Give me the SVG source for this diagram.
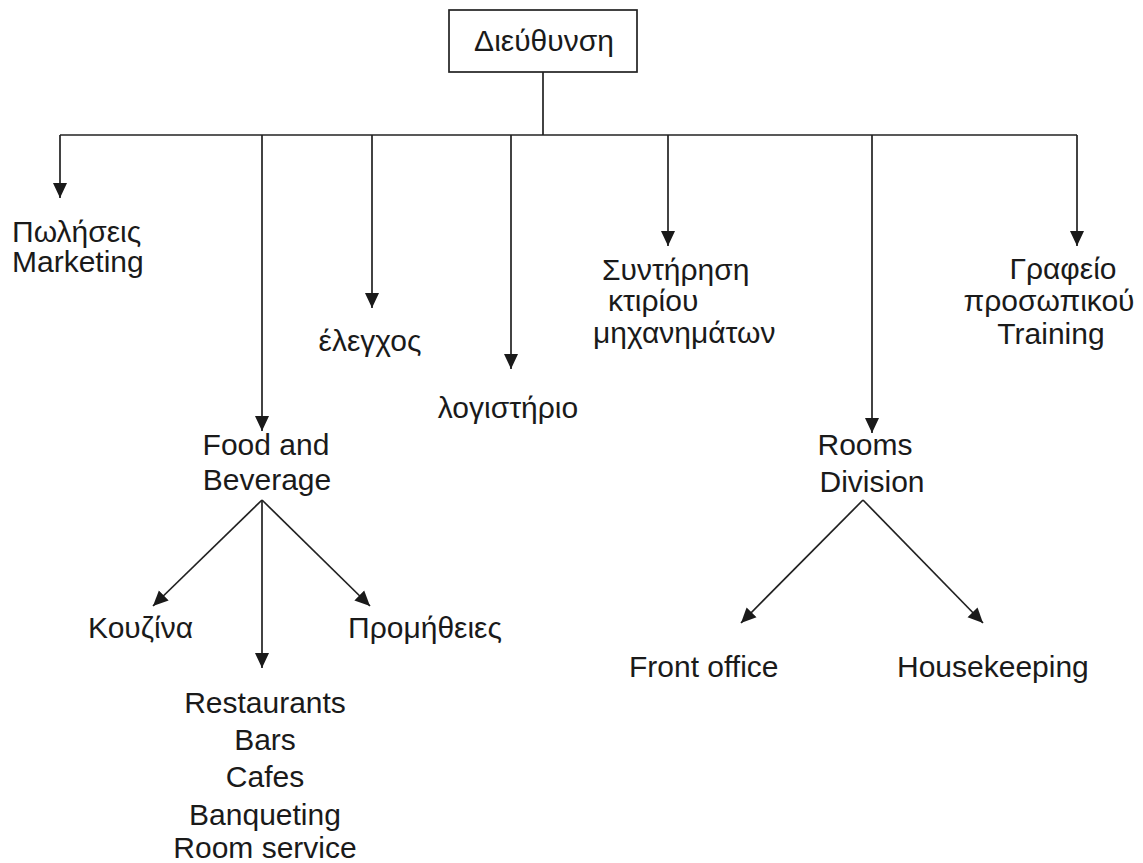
<svg xmlns="http://www.w3.org/2000/svg" width="1143" height="863" viewBox="0 0 1143 863">
<style>
text{font-family:"Liberation Sans",Arial,"DejaVu Sans",sans-serif;font-size:30px;fill:#1a1a1a}
.c{text-anchor:middle}
.ln{stroke:#222;stroke-width:1.7;fill:none}
.ar{marker-end:url(#ah)}
</style>
<defs>
<marker id="ah" markerUnits="userSpaceOnUse" markerWidth="16" markerHeight="16" viewBox="0 0 16 16" refX="15" refY="8" orient="auto">
<path d="M0,1 L15,8 L0,15 Z" fill="#1a1a1a"/>
</marker>
</defs>
<rect width="1143" height="863" fill="#fff"/>
<g id="connectors">
<line class="ln" x1="543" y1="72" x2="543" y2="135"/>
<line class="ln" x1="60" y1="135" x2="1077" y2="135"/>
<line class="ln ar" x1="60" y1="135" x2="60" y2="198"/>
<line class="ln ar" x1="262" y1="135" x2="262" y2="431"/>
<line class="ln ar" x1="372" y1="135" x2="372" y2="308"/>
<line class="ln ar" x1="511" y1="135" x2="511" y2="369"/>
<line class="ln ar" x1="668" y1="135" x2="668" y2="246"/>
<line class="ln ar" x1="872" y1="135" x2="872" y2="433"/>
<line class="ln ar" x1="1077" y1="135" x2="1077" y2="246"/>
<line class="ln ar" x1="262" y1="500" x2="153" y2="606"/>
<line class="ln ar" x1="262" y1="500" x2="370" y2="606"/>
<line class="ln ar" x1="262" y1="500" x2="262" y2="668"/>
<line class="ln ar" x1="863" y1="500" x2="741" y2="623"/>
<line class="ln ar" x1="863" y1="500" x2="983" y2="623"/>
</g>
<g id="n-root">
<rect x="449" y="10" width="188" height="62" fill="#fff" stroke="#222" stroke-width="1.7"/>
<text class="c" x="544" y="51">Διεύθυνση</text>
</g>
<g id="n-sales">
<text x="12" y="242">Πωλήσεις</text>
<text x="12" y="272">Marketing</text>
</g>
<g id="n-control"><text class="c" x="370" y="351">έλεγχος</text></g>
<g id="n-accounting"><text class="c" x="508" y="418">λογιστήριο</text></g>
<g id="n-maintenance">
<text x="602" y="280">Συντήρηση</text>
<text x="608" y="311">κτιρίου</text>
<text x="593" y="343">μηχανημάτων</text>
</g>
<g id="n-hr">
<text class="c" x="1063" y="279">Γραφείο</text>
<text class="c" x="1049" y="311">προσωπικού</text>
<text class="c" x="1051" y="344">Training</text>
</g>
<g id="n-fb">
<text class="c" x="266" y="455">Food and</text>
<text class="c" x="267" y="490">Beverage</text>
</g>
<g id="n-rooms">
<text class="c" x="865" y="455">Rooms</text>
<text class="c" x="872" y="492">Division</text>
</g>
<g id="n-kitchen"><text x="88" y="638">Κουζίνα</text></g>
<g id="n-supplies"><text x="348" y="638">Προμήθειες</text></g>
<g id="n-outlets">
<text class="c" x="265" y="713">Restaurants</text>
<text class="c" x="265" y="750">Bars</text>
<text class="c" x="265" y="787">Cafes</text>
<text class="c" x="265" y="825">Banqueting</text>
<text class="c" x="265" y="858">Room service</text>
</g>
<g id="n-frontoffice"><text x="629" y="677">Front office</text></g>
<g id="n-housekeeping"><text x="897" y="677">Housekeeping</text></g>
</svg>
